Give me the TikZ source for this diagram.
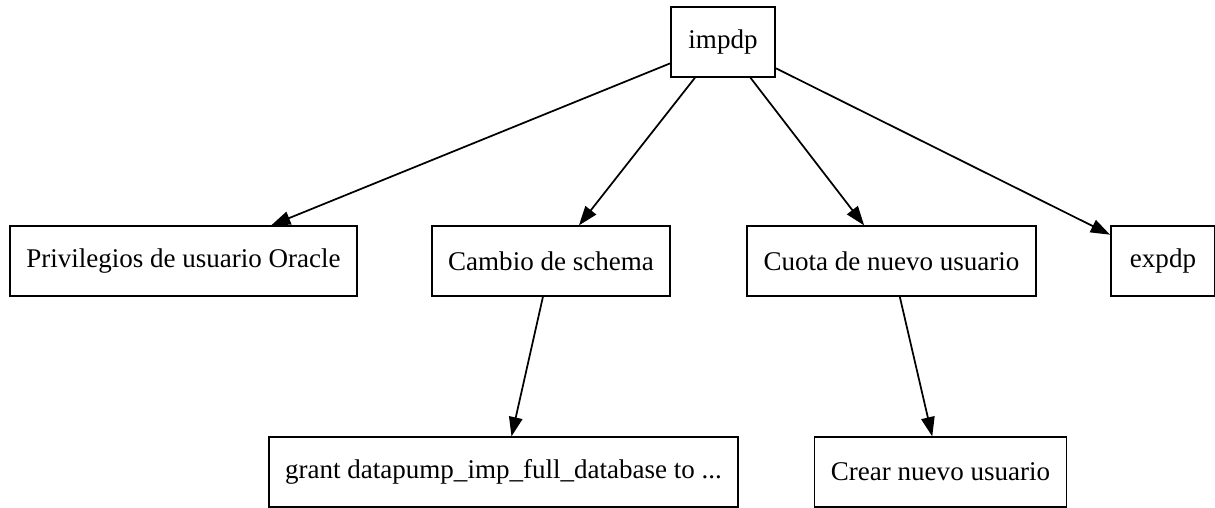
\documentclass[tikz,border=0pt]{standalone}
\usepackage{fontspec}
\setmainfont{Liberation Serif}
\usetikzlibrary{arrows.meta}

\begin{document}
\begin{tikzpicture}[x=0.5181pt,y=-0.5181pt,
  box/.style={draw=black,line width=0.9pt,minimum width=54pt,minimum height=36pt,inner xsep=8.5pt,font=\fontsize{14}{17}\selectfont},
  edge/.style={line width=0.9pt,-{Triangle[length=10pt,width=7pt]}}]
\useasboundingbox (0,0) rectangle (1215,508);
\node[box] (impdp) at (723,42) {impdp};
\node[box] (priv) at (183.5,261) {Privilegios de usuario Oracle};
\node[box] (schema) at (551,261) {Cambio de schema};
\node[box] (cuota) at (891.5,261) {Cuota de nuevo usuario};
\node[box] (expdp) at (1163,261) {expdp};
\node[box] (grant) at (503.5,472) {grant datapump\_imp\_full\_database to ...};
\node[box] (crear) at (940.5,472) {Crear nuevo usuario};
\draw[edge] (impdp) -- (priv);
\draw[edge] (impdp) -- (schema);
\draw[edge] (impdp) -- (cuota);
\draw[edge] (impdp) -- (expdp);
\draw[edge] (schema) -- (grant);
\draw[edge] (cuota) -- (crear);
\end{tikzpicture}
\end{document}
